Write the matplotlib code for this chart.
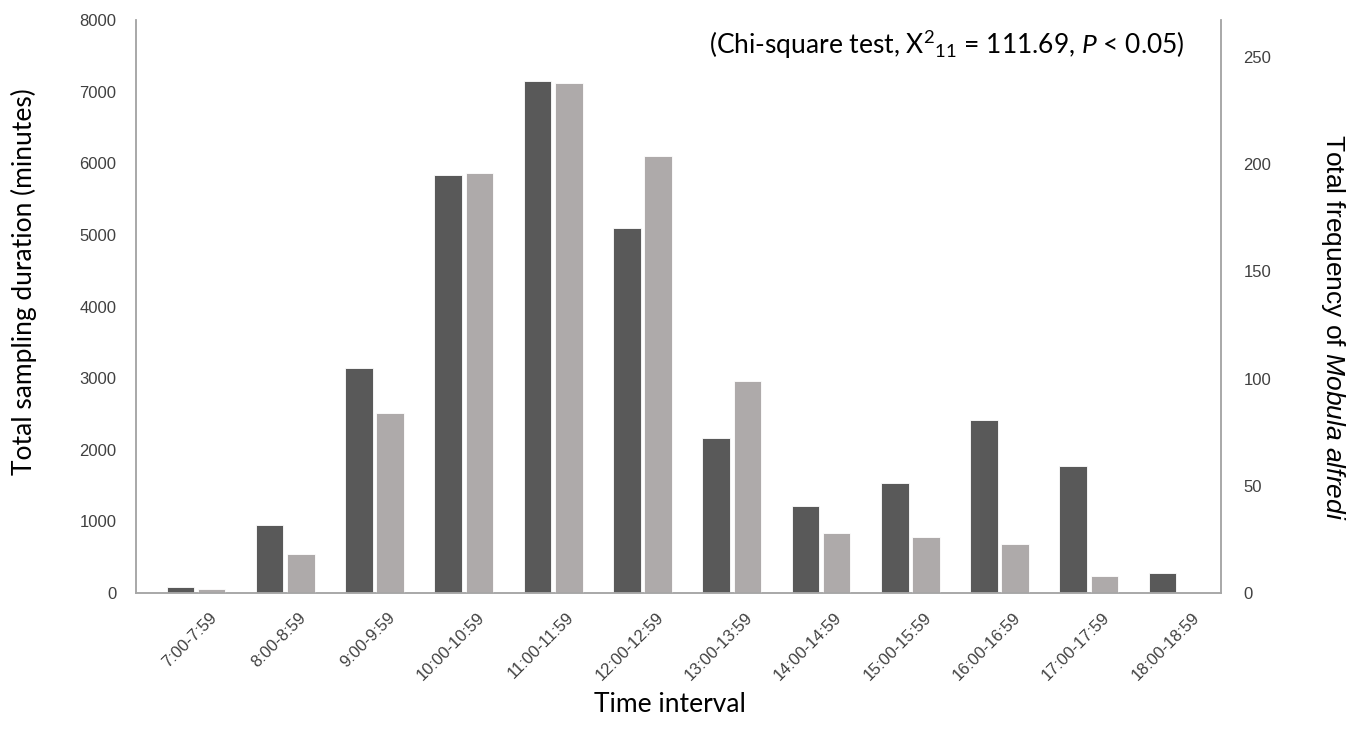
import numpy as np
import matplotlib.pyplot as plt

# hourly sampling effort vs. manta sightings
intervals = ["7:00-7:59", "8:00-8:59", "9:00-9:59", "10:00-10:59", "11:00-11:59",
             "12:00-12:59", "13:00-13:59", "14:00-14:59", "15:00-15:59",
             "16:00-16:59", "17:00-17:59", "18:00-18:59"]
duration_min = [80, 950, 3140, 5830, 7150, 5100, 2160, 1220, 1540, 2410, 1780, 275]
frequency = [2, 18, 84, 196, 238, 204, 99, 28, 26, 23, 8, 0]

dark = "#595959"
light = "#aeaaaa"
axis_col = "#a6a6a6"
tick_col = "#404040"

# rm/sf -> Lato (stats line), it -> Arial-like italic (species name)
plt.rcParams['mathtext.fontset'] = 'custom'
plt.rcParams['mathtext.rm'] = 'Lato'
plt.rcParams['mathtext.sf'] = 'Lato:italic'
plt.rcParams['mathtext.it'] = 'Liberation Sans:italic'

fig = plt.figure(figsize=(13.57, 7.42), dpi=100)
ax = fig.add_axes([0.1002, 0.2008, 0.7996, 0.7722])
ax2 = ax.twinx()

x = np.arange(len(intervals))
w = 0.31
off = 0.175

ax.bar(x - off, duration_min, width=w, color=dark, edgecolor="white", linewidth=0.6)
ax2.bar(x + off, frequency, width=w, color=light, edgecolor="white", linewidth=0.6)

ax.set_xlim(-0.672, 11.48)
ax.set_ylim(0, 8000)
ax2.set_ylim(0, 267.3)
ax.set_yticks(np.arange(0, 8001, 1000))
ax2.set_yticks(np.arange(0, 251, 50))

# rotated labels sit slightly right of the bar pair
ax.set_xticks(x + 0.15)
ax.set_xticklabels(intervals, rotation=45, ha="right", va="top", rotation_mode="anchor",
                   fontsize=12, color=tick_col, family="Liberation Sans")
ax.tick_params(axis="x", length=0, pad=12)
ax.tick_params(axis="y", length=0, pad=14, labelsize=12, labelcolor=tick_col)
ax2.tick_params(axis="y", length=0, pad=16, labelsize=12, labelcolor=tick_col)
for lab in ax.get_yticklabels() + ax2.get_yticklabels():
    lab.set_family("Liberation Sans")

for a in (ax, ax2):
    a.spines["top"].set_visible(False)
    for s in ("left", "right", "bottom"):
        a.spines[s].set_color(axis_col)
        a.spines[s].set_linewidth(1.1)

fig.text(0.018, 0.62, "Total sampling duration (minutes)", rotation=90,
         ha="center", va="center", fontsize=19, family="Lato")
fig.text(0.982, 0.559, "Total frequency of $\\it{Mobula\\ alfredi}$", rotation=-90,
         ha="center", va="center", fontsize=19, family="Liberation Sans")
fig.text(0.494, 0.05, "Time interval", ha="center", va="center",
         fontsize=19, family="Lato")
fig.text(0.873, 0.94, "(Chi-square test, X$^{2}$$_{11}$ = 111.69, $\\mathsf{P}$ < 0.05)",
         ha="right", va="center", fontsize=19, family="Lato")

fig.savefig("out.png", dpi=100)
